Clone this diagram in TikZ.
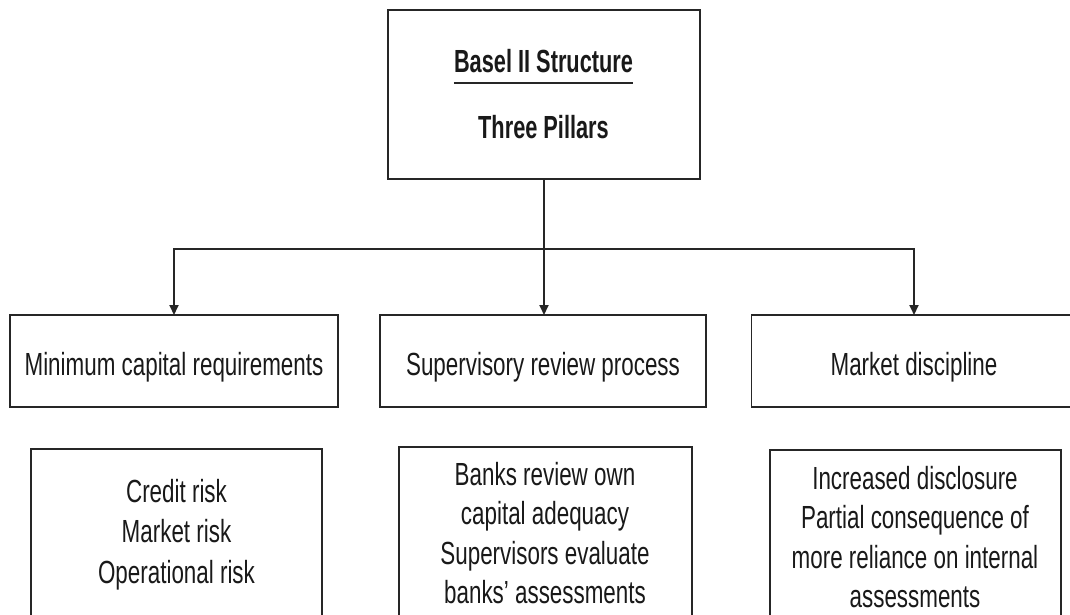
\documentclass[tikz,border=0pt]{standalone}
\usepackage{fontspec}
\setmainfont[FakeStretch=0.70,BoldFeatures={FakeStretch=0.68}]{Liberation Sans}
\usetikzlibrary{arrows.meta}
\begin{document}
\begin{tikzpicture}[x=1pt,y=-1pt,
  ln/.style={draw=black!85, line width=1.8pt},
  box/.style={ln, rectangle, inner sep=0pt, outer sep=0pt},
  txt/.style={font=\fontsize{32}{39.5}\selectfont, inner sep=0pt, align=center, text=black!90},
  btxt/.style={font=\bfseries\fontsize{32}{39}\selectfont, inner sep=0pt, text=black!90},
  midbox/.style={box, minimum height=92pt, font=\fontsize{32}{39}\selectfont, text height=29pt, text depth=0pt, text=black!90},
  lowbox/.style={box, minimum height=220pt, anchor=north},
  arr/.style={ln, -{Triangle[width=9pt,length=10pt]}}
]
\clip (0,0) rectangle (1070,614);
\fill[white] (0,0) rectangle (1070,614);

% top box
\node[box, minimum width=312pt, minimum height=169pt] (top) at (544,94.5) {};
\node[btxt, anchor=base] (title) at (543.5,72) {Basel II Structure};
\draw[ln, line width=2pt] ([yshift=-11pt]title.base west) -- ([yshift=-11pt]title.base east);
\node[btxt, anchor=base] (sub) at (543.5,138) {Three Pillars};

% middle row
\node[midbox, minimum width=327.5pt] (m1) at (174,361) {Minimum capital requirements};
\node[midbox, minimum width=325.5pt] (m2) at (543,361) {Supervisory review process};
\node[midbox, minimum width=325pt] (m3) at (914,361) {Market discipline};

% connectors
\coordinate (j) at (top.south |- 0,249);
\draw[ln] (top.south) -- (j);
\draw[arr] (j) -| (m1.north);
\draw[arr] (j) -- (j |- m2.north);
\draw[arr] (j) -| (m3.north);

% bottom row
\node[lowbox, minimum width=291pt] (b1) at (176.5,449) {};
\node[lowbox, minimum width=293pt] (b2) at (545.5,447) {};
\node[lowbox, minimum width=291pt] (b3) at (915.5,450) {};

\node[txt, anchor=north] (t1) at (176.5,479) {Credit risk\\[1pt]Market risk\\[1pt]Operational risk};
\node[txt, anchor=north] (t2) at (545,462) {Banks review own\\capital adequacy\\Supervisors evaluate\\banks’ assessments};
\node[txt, anchor=north] (t3) at (915,466) {Increased disclosure\\Partial consequence of\\more reliance on internal\\assessments};
\end{tikzpicture}
\end{document}
